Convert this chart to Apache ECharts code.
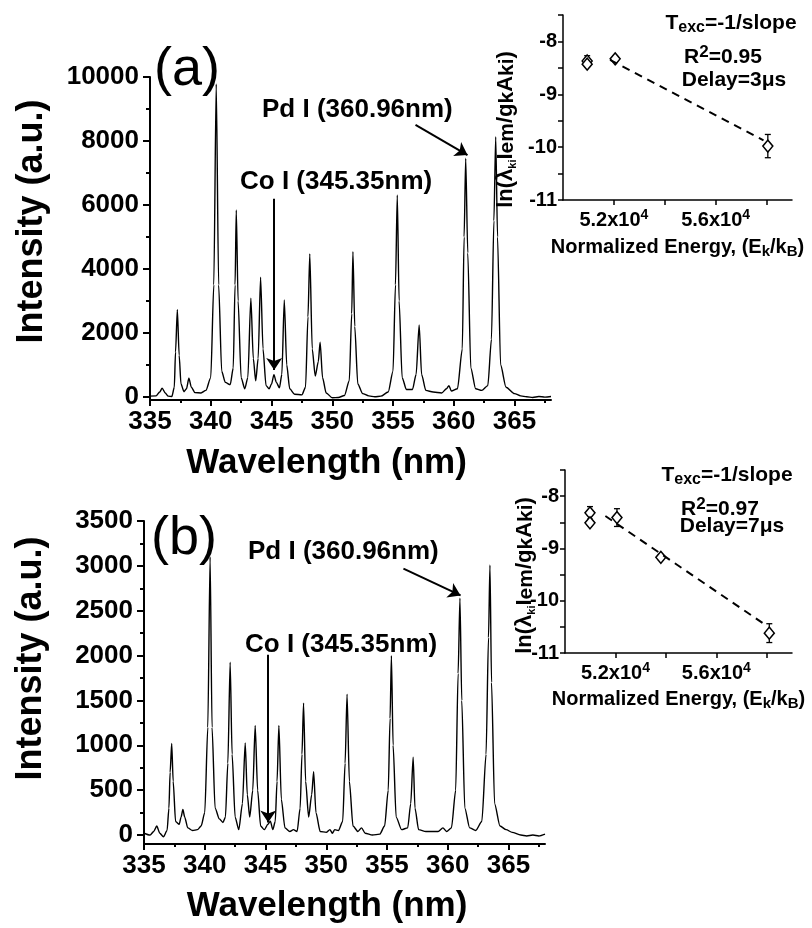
<!DOCTYPE html>
<html>
<head>
<meta charset="utf-8">
<title>LIBS spectra and Boltzmann plots</title>
<script src="https://cdn.jsdelivr.net/npm/echarts@6/dist/echarts.min.js"></script>
<style>
html,body{margin:0;padding:0;background:#fff;}
#chart{width:812px;height:928px;}
</style>
</head>
<body>
<div id="chart"></div>
<script>
// spectrum (a), delay 3 us : [wavelength nm, intensity a.u.]
var spectrumA = [
	[335.0,20],[335.5,30],[335.8,150],[336.0,270],[336.25,120],[336.5,20],[336.8,10],
	[337.0,300],[337.1,1400],[337.25,2720],[337.4,1300],[337.55,400],[337.8,160],
	[338.0,250],[338.2,580],[338.4,300],[338.7,130],[339.2,120],[339.6,200],[340.0,600],
	[340.25,3500],[340.45,9780],[340.65,3500],[340.9,800],[341.2,450],[341.6,380],
	[341.85,900],[342.0,3500],[342.1,5840],[342.25,3000],[342.5,600],[342.8,250],
	[343.05,600],[343.3,3080],[343.5,1200],[343.7,500],[343.9,1200],[344.1,3740],
	[344.3,1500],[344.55,350],[344.8,250],[345.0,400],[345.2,690],[345.4,450],[345.65,280],
	[345.85,700],[346.05,3030],[346.25,1000],[346.5,250],[346.9,80],[347.5,60],
	[347.8,300],[348.0,2500],[348.15,4470],[348.35,1500],[348.6,650],[348.85,1100],
	[349.0,1710],[349.2,600],[349.5,120],[350.0,-30],[350.5,-20],[351.0,40],[351.4,500],
	[351.6,2600],[351.7,4540],[351.85,2200],[352.1,400],[352.5,100],[353.0,30],[353.5,0],
	[354.0,20],[354.6,150],[355.0,800],[355.2,3500],[355.35,6310],[355.5,3000],[355.75,600],
	[356.1,230],[356.6,230],[356.9,700],[357.15,2250],[357.35,700],[357.7,200],[358.3,150],
	[359.0,120],[359.4,250],[359.6,350],[359.8,180],[360.3,250],[360.7,1500],[360.85,5000],
	[360.98,7460],[361.15,4500],[361.4,900],[361.8,250],[362.3,200],[362.8,350],[363.1,1800],
	[363.3,5500],[363.45,8130],[363.6,5000],[363.85,1000],[364.3,300],[365.0,100],[365.5,30],
	[366.0,0],[366.5,-20],[367.0,10],[367.5,-10],[368.0,10]
];
// spectrum (b), delay 7 us
var spectrumB = [
	[335.0,20],[335.5,0],[335.8,40],[336.05,100],[336.3,20],[336.6,-20],[336.9,50],
	[337.05,300],[337.15,700],[337.28,1020],[337.4,600],[337.6,150],[337.9,120],[338.05,200],
	[338.2,285],[338.35,200],[338.6,80],[339.0,50],[339.4,60],[339.7,100],[340.0,250],
	[340.25,1200],[340.44,3100],[340.6,1200],[340.85,300],[341.2,180],[341.5,140],[341.7,200],
	[341.9,800],[342.09,1925],[342.25,900],[342.5,200],[342.8,60],[343.1,350],[343.33,1025],
	[343.5,450],[343.7,200],[343.95,500],[344.15,1220],[344.35,500],[344.6,100],[344.9,60],
	[345.2,120],[345.4,155],[345.6,60],[345.8,150],[345.95,600],[346.1,1220],[346.3,400],
	[346.6,80],[347.0,40],[347.3,60],[347.6,40],[347.85,300],[348.0,900],[348.13,1470],
	[348.3,600],[348.55,200],[348.8,450],[348.96,705],[349.15,250],[349.5,40],[350.0,30],
	[350.3,60],[350.5,20],[350.7,60],[351.0,50],[351.35,150],[351.55,800],[351.71,1570],
	[351.9,600],[352.2,100],[352.6,40],[352.9,80],[353.2,20],[353.8,0],[354.4,10],[354.8,100],
	[355.1,500],[355.25,1300],[355.36,2000],[355.5,1000],[355.75,200],[356.2,60],[356.7,80],
	[356.95,350],[357.15,867],[357.3,300],[357.6,60],[358.2,40],[358.7,40],[359.2,40],
	[359.6,80],[359.9,40],[360.3,80],[360.65,500],[360.85,1800],[361.0,2640],[361.15,1500],
	[361.4,300],[361.8,80],[362.3,50],[362.8,150],[363.15,900],[363.35,2200],[363.47,3010],
	[363.6,1700],[363.85,350],[364.3,100],[364.8,60],[365.3,30],[366.0,0],[366.5,-10],
	[367.0,0],[367.5,-10],[368.0,10]
];
// Boltzmann plots: [E_k/k_B, ln(...), error]
var boltzA = [[50950,-8.37,0.1],[50950,-8.43,0.05],[52050,-8.33,0.05],[58050,-9.98,0.22]];
var fitA = [[51850,-8.35],[57880,-9.87]];
var boltzB = [[50990,-8.32,0.12],[50990,-8.51,0.05],[52060,-8.41,0.17],[53800,-9.17,0.05],[58100,-10.62,0.18]];
var fitB = [[51600,-8.38],[57850,-10.43]];

// ticks
var waveTicks = [335,340,345,350,355,360,365];
var waveMinor = [337.5,342.5,347.5,352.5,357.5,362.5,367.5];
var intTicksA = [0,2000,4000,6000,8000,10000];
var intMinorA = [1000,3000,5000,7000,9000];
var intTicksB = [0,500,1000,1500,2000,2500,3000,3500];
var intMinorB = [250,750,1250,1750,2250,2750,3250];
var energyLabels = [52000,56000];
var energyTicks = [52000,54000,56000,58000];
var lnLabels = [-11,-10,-9,-8];
var lnTicks = [-11,-10.5,-10,-9.5,-9,-8.5,-8,-7.5];

var FONT = '"Liberation Sans", Arial, Helvetica, sans-serif';

function mainX(grid, ticks, minor, nameGap, namePad){
	var major = {
		type:'value', gridIndex:grid, min:335, max:368, position:'bottom',
		name:'Wavelength (nm)', nameLocation:'middle', nameGap:nameGap,
		nameTextStyle:{fontFamily:FONT, fontWeight:'bold', fontSize:35, color:'#000', padding:namePad},
		axisLine:{onZero:false, lineStyle:{color:'#000', width:2}},
		axisTick:{customValues:ticks, length:6, lineStyle:{color:'#000', width:2}},
		axisLabel:{customValues:ticks, margin:9, fontFamily:FONT, fontWeight:'bold', fontSize:26, color:'#000',
			formatter:function(v){ return String(v); }},
		splitLine:{show:false}
	};
	var small = {
		type:'value', gridIndex:grid, min:335, max:368, position:'bottom',
		axisLine:{show:false, onZero:false},
		axisTick:{customValues:minor, length:3, lineStyle:{color:'#000', width:2}},
		axisLabel:{show:false}, splitLine:{show:false}
	};
	return [major, small];
}
function mainY(grid, max, ticks, minor, nameGap, namePad){
	var major = {
		type:'value', gridIndex:grid, min:-100, max:max, position:'left',
		name:'Intensity (a.u.)', nameLocation:'middle', nameGap:nameGap, nameRotate:90,
		nameTextStyle:{fontFamily:FONT, fontWeight:'bold', fontSize:36, color:'#000', padding:namePad},
		axisLine:{onZero:false, lineStyle:{color:'#000', width:2}},
		axisTick:{customValues:ticks, length:7, lineStyle:{color:'#000', width:2}},
		axisLabel:{customValues:ticks, margin:11, fontFamily:FONT, fontWeight:'bold', fontSize:26, color:'#000',
			formatter:function(v){ return String(v); }},
		splitLine:{show:false}
	};
	var small = {
		type:'value', gridIndex:grid, min:-100, max:max, position:'left',
		axisLine:{show:false, onZero:false},
		axisTick:{customValues:minor, length:4, lineStyle:{color:'#000', width:2}},
		axisLabel:{show:false}, splitLine:{show:false}
	};
	return [major, small];
}
var insetRich = {
	m:{fontFamily:FONT, fontWeight:'bold', fontSize:20, color:'#000', lineHeight:24},
	p:{fontFamily:FONT, fontWeight:'bold', fontSize:14, color:'#000', lineHeight:10, verticalAlign:'top'},
	s:{fontFamily:FONT, fontWeight:'bold', fontSize:15, color:'#000', lineHeight:12, verticalAlign:'bottom'},
	n:{fontFamily:FONT, fontWeight:'bold', fontSize:22, color:'#000', lineHeight:25},
	l:{fontFamily:FONT, fontWeight:'bold', fontSize:21, color:'#000', lineHeight:20, verticalAlign:'bottom'},
	ss:{fontFamily:FONT, fontWeight:'bold', fontSize:11, color:'#000', lineHeight:8, verticalAlign:'bottom'}
};
function insetX(grid, nameGap){
	return {
		type:'value', gridIndex:grid, min:50000, max:59000, position:'bottom',
		name:'{m|Normalized Energy, (E}{s|k}{m|/k}{s|B}{m|)}', nameLocation:'middle', nameGap:nameGap,
		nameMoveOverlap:false,
		nameTextStyle:{rich:insetRich},
		axisLine:{onZero:false, lineStyle:{color:'#000', width:1.5}},
		axisTick:{customValues:energyTicks, length:5, lineStyle:{color:'#000', width:1.5}},
		axisLabel:{customValues:energyLabels, margin:8, rich:insetRich,
			formatter:function(v){ return '{m|' + (v/10000).toFixed(1) + 'x10}{p|4}'; }},
		splitLine:{show:false}
	};
}
function insetY(grid, nameGap, namePad){
	return {
		type:'value', gridIndex:grid, min:-11, max:-7.5, position:'left',
		name:'{n|ln(λ}{ss|ki}{n|I}{l|em}{n|/g}{l|k}{n|A}{l|ki}{n|)}', nameLocation:'middle', nameGap:nameGap, nameRotate:90,
		nameMoveOverlap:false,
		nameTextStyle:{rich:insetRich, padding:namePad},
		axisLine:{onZero:false, lineStyle:{color:'#000', width:1.5}},
		axisTick:{customValues:lnTicks, length:5, lineStyle:{color:'#000', width:1.5}},
		axisLabel:{customValues:lnLabels, margin:6, fontFamily:FONT, fontWeight:'bold', fontSize:20, color:'#000'},
		splitLine:{show:false}
	};
}
function errorBar(params, api){
	var x = api.value(0), y = api.value(1), e = api.value(2);
	var top = api.coord([x, y + e]), bot = api.coord([x, y - e]);
	var st = {stroke:'#000', lineWidth:1.3};
	return {type:'group', children:[
		{type:'line', shape:{x1:top[0], y1:top[1], x2:bot[0], y2:bot[1]}, style:st},
		{type:'line', shape:{x1:top[0]-3, y1:top[1], x2:top[0]+3, y2:top[1]}, style:st},
		{type:'line', shape:{x1:bot[0]-3, y1:bot[1], x2:bot[0]+3, y2:bot[1]}, style:st}
	]};
}
function arrows(list){
	return {
		silent:true, symbol:['none','arrow'], symbolSize:12, label:{show:false},
		lineStyle:{color:'#000', width:2, type:'solid', opacity:1},
		itemStyle:{color:'#000'},
		emphasis:{disabled:true},
		data:list.map(function(a){ return [{coord:a[0]}, {coord:a[1]}]; })
	};
}
function textEl(x, y, txt, size, weight, align){
	return {type:'text', x:x, y:y, style:{text:txt, fontFamily:FONT, fontSize:size, fontWeight:weight,
		fill:'#000', textAlign:align, align:align, textVerticalAlign:'middle', verticalAlign:'middle'}};
}
var annRich = {
	t:{fontFamily:FONT, fontWeight:'bold', fontSize:21, fill:'#000', color:'#000', lineHeight:26},
	s:{fontFamily:FONT, fontWeight:'bold', fontSize:16, fill:'#000', color:'#000', lineHeight:12, verticalAlign:'bottom'},
	p:{fontFamily:FONT, fontWeight:'bold', fontSize:17, fill:'#000', color:'#000', lineHeight:16, verticalAlign:'top'}
};
function richEl(x, y, txt){
	return {type:'text', x:x, y:y, style:{text:txt, rich:annRich, textAlign:'center', align:'center',
		textVerticalAlign:'middle', verticalAlign:'middle'}};
}

var chart = echarts.init(document.getElementById('chart'), null, {renderer:'canvas'});
var xA = mainX(0, waveTicks, waveMinor, 46, [0,48,0,0]);
var xB = mainX(1, waveTicks, waveMinor, 45, [0,35,0,0]);
var yA = mainY(0, 10000, intTicksA, intMinorA, 100, [0,0,0,34]);
var yB = mainY(1, 3500, intTicksB, intMinorB, 95, [0,0,0,48]);
var option = {
	backgroundColor:'#fff',
	animation:false,
	grid:[
		{left:150, top:77, width:401, height:323},
		{left:144, top:521, width:401, height:323},
		{left:563, top:15, width:229, height:185},
		{left:565, top:470, width:227, height:183}
	],
	xAxis:[xA[0], xA[1], xB[0], xB[1], insetX(2, 35), insetX(3, 34)],
	yAxis:[yA[0], yA[1], yB[0], yB[1], insetY(2, 45, [0,44,0,0]), insetY(3, 28, [0,28,0,0])],
	graphic:[
		textEl(154, 70, '(a)', 54, 'normal', 'left'),
		textEl(151, 539, '(b)', 54, 'normal', 'left'),
		textEl(262, 110, 'Pd I (360.96nm)', 26, 'bold', 'left'),
		textEl(240, 182, 'Co I (345.35nm)', 26, 'bold', 'left'),
		textEl(248, 552, 'Pd I (360.96nm)', 26, 'bold', 'left'),
		textEl(245, 645, 'Co I (345.35nm)', 26, 'bold', 'left'),
		richEl(731, 23, '{t|T}{s|exc}{t|=-1/slope}'),
		richEl(723, 57, '{t|R}{p|2}{t|=0.95}'),
		richEl(734, 80, '{t|Delay=3μs}'),
		richEl(727, 475, '{t|T}{s|exc}{t|=-1/slope}'),
		richEl(720, 509, '{t|R}{p|2}{t|=0.97}'),
		richEl(732, 526, '{t|Delay=7μs}')
	],
	series:[
		{type:'line', xAxisIndex:0, yAxisIndex:0, data:spectrumA, showSymbol:false, symbol:'none',
			smooth:0.25, smoothMonotone:'x',
			lineStyle:{color:'#000', width:1.4}, silent:true,
			markLine:arrows([[[356.85,8500],[361.13,7560]], [[345.22,6190],[345.22,840]]])},
		{type:'line', xAxisIndex:2, yAxisIndex:2, data:spectrumB, showSymbol:false, symbol:'none',
			smooth:0.25, smoothMonotone:'x',
			lineStyle:{color:'#000', width:1.4}, silent:true,
			markLine:arrows([[[356.35,2970],[361.05,2670]], [[345.22,2010],[345.22,141]]])},
		{type:'line', xAxisIndex:4, yAxisIndex:4, data:fitA, showSymbol:false, symbol:'none',
			lineStyle:{color:'#000', width:2, type:[8,6]}, silent:true},
		{type:'custom', xAxisIndex:4, yAxisIndex:4, data:boltzA, renderItem:errorBar, silent:true},
		{type:'scatter', xAxisIndex:4, yAxisIndex:4, data:boltzA, symbol:'diamond', symbolSize:[10,12],
			itemStyle:{color:'#fff', borderColor:'#000', borderWidth:1.5, opacity:1}, silent:true},
		{type:'line', xAxisIndex:5, yAxisIndex:5, data:fitB, showSymbol:false, symbol:'none',
			lineStyle:{color:'#000', width:2, type:[8,6]}, silent:true},
		{type:'custom', xAxisIndex:5, yAxisIndex:5, data:boltzB, renderItem:errorBar, silent:true},
		{type:'scatter', xAxisIndex:5, yAxisIndex:5, data:boltzB, symbol:'diamond', symbolSize:[10,12],
			itemStyle:{color:'#fff', borderColor:'#000', borderWidth:1.5, opacity:1}, silent:true}
	]
};
chart.setOption(option);
</script>
</body>
</html>
